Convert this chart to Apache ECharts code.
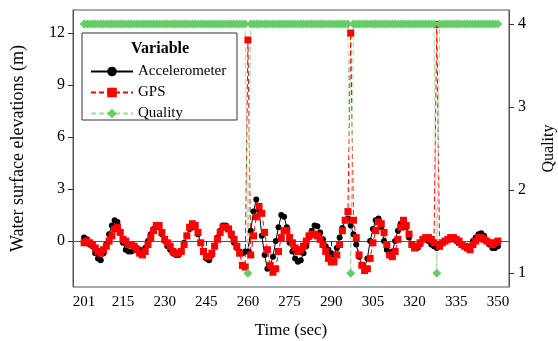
<!DOCTYPE html>
<html>
<head>
<meta charset="utf-8">
<script src="https://cdn.jsdelivr.net/npm/echarts@6/dist/echarts.min.js"></script>
<style>
  html, body { margin: 0; padding: 0; background: #fff; }
  #chart { width: 558px; height: 341px; }
</style>
</head>
<body>
<div id="chart"></div>
<script>
// sample times (sec)
var times = [
  201, 202, 203, 204, 205, 206, 207, 208, 209, 210,
  211, 212, 213, 214, 215, 216, 217, 218, 219, 220,
  221, 222, 223, 224, 225, 226, 227, 228, 229, 230,
  231, 232, 233, 234, 235, 236, 237, 238, 239, 240,
  241, 242, 243, 244, 245, 246, 247, 248, 249, 250,
  251, 252, 253, 254, 255, 256, 257, 258, 259, 260,
  261, 262, 263, 264, 265, 266, 267, 268, 269, 270,
  271, 272, 273, 274, 275, 276, 277, 278, 279, 280,
  281, 282, 283, 284, 285, 286, 287, 288, 289, 290,
  291, 292, 293, 294, 295, 296, 297, 298, 299, 300,
  301, 302, 303, 304, 305, 306, 307, 308, 309, 310,
  311, 312, 313, 314, 315, 316, 317, 318, 319, 320,
  321, 322, 323, 324, 325, 326, 327, 328, 329, 330,
  331, 332, 333, 334, 335, 336, 337, 338, 339, 340,
  341, 342, 343, 344, 345, 346, 347, 348, 349, 350
];

// water surface elevation, accelerometer (m)
var accelerometer = [
  0.2, 0.1, -0.2, -0.3, -0.7, -1.0, -1.1, -0.7, -0.2, 0.4,
  0.9, 1.2, 1.1, 0.5, -0.1, -0.5, -0.6, -0.6, -0.5, -0.4,
  -0.5, -0.6, -0.4, 0.0, 0.4, 0.7, 0.9, 0.8, 0.4, 0.0,
  -0.3, -0.5, -0.7, -0.8, -0.8, -0.6, -0.1, 0.3, 0.7, 0.9,
  0.8, 0.4, -0.1, -0.6, -1.0, -1.1, -0.8, -0.3, 0.2, 0.6,
  0.9, 0.9, 0.7, 0.3, -0.1, -0.4, -0.6, -0.7, -0.6, -0.6,
  0.6, 1.7, 2.4, 1.8, 0.3, -0.8, -1.6, -1.4, -0.9, 0.0,
  0.8, 1.5, 1.4, 0.8, -0.1, -0.6, -1.0, -1.2, -1.1, -0.7,
  -0.3, 0.2, 0.6, 0.9, 0.85, 0.5, 0.1, -0.3, -0.5, -0.7,
  -0.8, -0.4, 0.2, 0.75, 1.2, 1.3, 0.9, 0.4, -0.2, -0.9,
  -1.4, -1.55, -1.0, 0.0, 0.7, 1.2, 1.3, 0.8, 0.0, -0.5,
  -0.7, -0.6, 0.0, 0.6, 1.0, 1.1, 0.8, 0.2, -0.2, -0.4,
  -0.4, -0.2, 0.1, 0.2, 0.0, -0.2, -0.3, -0.4, -0.2, -0.1,
  0.0, 0.1, 0.1, 0.1, 0.0, -0.1, -0.2, -0.3, -0.4, -0.3,
  0.0, 0.2, 0.4, 0.45, 0.3, 0.0, -0.2, -0.4, -0.4, -0.3
];

// water surface elevation, GPS (m)
var gps = [
  -0.1, 0.0, -0.1, -0.2, -0.4, -0.6, -0.7, -0.5, -0.3, 0.0,
  0.3, 0.7, 0.8, 0.5, 0.1, 0.0, -0.2, -0.2, -0.3, -0.5,
  -0.7, -0.8, -0.6, -0.2, 0.2, 0.6, 0.9, 0.9, 0.5, 0.1,
  -0.1, -0.3, -0.6, -0.7, -0.7, -0.6, -0.2, 0.3, 0.8, 1.0,
  0.9, 0.5, -0.1, -0.6, -0.9, -0.9, -0.7, -0.3, 0.1, 0.5,
  0.8, 0.8, 0.7, 0.4, 0.1, -0.3, -0.7, -1.4, -1.5, 11.6,
  -0.8, 0.3, 1.4, 2.0, 1.6, 0.5, -0.5, -1.4, -1.8, -1.6,
  -0.6, 0.2, 0.6, 0.6, 0.2, -0.1, -0.4, -0.6, -0.5, -0.3,
  0.0, 0.3, 0.4, 0.4, 0.3, 0.1, -0.2, -0.6, -1.0, -1.2,
  -1.2, -0.8, -0.2, 0.6, 1.2, 1.7, 12.0, 1.2, 0.2, -0.8,
  -1.4, -1.7, -1.6, -1.0, -0.1, 0.6, 1.1, 1.0, 0.5, -0.2,
  -0.8, -0.9, -0.6, 0.1, 0.8, 1.2, 0.9, 0.4, -0.2, -0.4,
  -0.3, -0.1, 0.1, 0.2, 0.2, 0.1, -0.1, 12.5, -0.3, -0.1,
  0.0, 0.1, 0.2, 0.2, 0.1, 0.0, -0.2, -0.3, -0.4, -0.5,
  -0.2, 0.0, 0.2, 0.2, 0.1, 0.0, -0.1, -0.2, -0.1, 0.0
];

// GPS quality flag
var quality = [
  4, 4, 4, 4, 4, 4, 4, 4, 4, 4,
  4, 4, 4, 4, 4, 4, 4, 4, 4, 4,
  4, 4, 4, 4, 4, 4, 4, 4, 4, 4,
  4, 4, 4, 4, 4, 4, 4, 4, 4, 4,
  4, 4, 4, 4, 4, 4, 4, 4, 4, 4,
  4, 4, 4, 4, 4, 4, 4, 4, 4, 1,
  4, 4, 4, 4, 4, 4, 4, 4, 4, 4,
  4, 4, 4, 4, 4, 4, 4, 4, 4, 4,
  4, 4, 4, 4, 4, 4, 4, 4, 4, 4,
  4, 4, 4, 4, 4, 4, 1, 4, 4, 4,
  4, 4, 4, 4, 4, 4, 4, 4, 4, 4,
  4, 4, 4, 4, 4, 4, 4, 4, 4, 4,
  4, 4, 4, 4, 4, 4, 4, 1, 4, 4,
  4, 4, 4, 4, 4, 4, 4, 4, 4, 4,
  4, 4, 4, 4, 4, 4, 4, 4, 4, 4
];

var xTicks = [201, 215, 230, 245, 260, 275, 290, 305, 320, 335, 350];
var yTicks = [0, 3, 6, 9, 12];
var qTicks = [1, 2, 3, 4];

function pairs(ys) {
  return times.map(function (t, i) { return [t, ys[i]]; });
}

var FONT = '"Liberation Serif", "DejaVu Serif", serif';
var GREEN = "#66cc66";

var chart = echarts.init(document.getElementById("chart"));
var option = {
  animation: false,
  textStyle: { fontFamily: FONT, color: "#000" },
  grid: {
    left: 73, right: 49, top: 10, bottom: 54,
    outerBoundsMode: "none",
    containLabel: false,
    show: true, borderColor: "#555", borderWidth: 1
  },
  graphic: [
    {
      type: "rect",
      shape: { x: 82, y: 33, width: 155, height: 87 },
      style: { fill: "#fff", stroke: "#333", lineWidth: 1 },
      z: 5
    },
    {
      type: "text",
      left: 131, top: 41,
      style: { text: "Variable", font: "bold 16px " + FONT, fill: "#000" },
      z: 6
    }
  ],
  legend: {
    orient: "vertical",
    left: 85, top: 59,
    itemWidth: 42, itemHeight: 12, itemGap: 6,
    textStyle: { fontFamily: FONT, fontSize: 15, lineHeight: 15, color: "#000" },
    data: ["Accelerometer", "GPS", "Quality"],
    z: 7
  },
  xAxis: {
    type: "value",
    min: 197, max: 354,
    name: "Time (sec)",
    nameLocation: "middle",
    nameGap: 35,
    nameTextStyle: { fontFamily: FONT, fontSize: 17, color: "#000" },
    axisLine: { show: true, lineStyle: { color: "#555" } },
    axisTick: { show: true, customValues: xTicks, length: 5, lineStyle: { color: "#333" } },
    axisLabel: { customValues: xTicks, fontFamily: FONT, fontSize: 15, color: "#000", margin: 8 },
    splitLine: { show: false }
  },
  yAxis: [
    {
      type: "value",
      min: -2.65, max: 13.33,
      name: "Water surface elevations (m)",
      nameLocation: "middle",
      nameGap: 46,
      nameTextStyle: { fontFamily: FONT, fontSize: 18, color: "#000" },
      axisLine: { show: true, lineStyle: { color: "#555" } },
      axisTick: { show: true, customValues: yTicks, length: 5, lineStyle: { color: "#333" } },
      axisLabel: { customValues: yTicks, fontFamily: FONT, fontSize: 16, color: "#000", margin: 8 },
      splitLine: { show: false }
    },
    {
      type: "value",
      min: 0.835, max: 4.17,
      position: "right",
      name: "Quality",
      nameLocation: "middle",
      nameGap: 32,
      nameRotate: 90,
      nameTextStyle: { fontFamily: FONT, fontSize: 16, color: "#000" },
      axisLine: { show: true, lineStyle: { color: "#555" } },
      axisTick: { show: true, customValues: qTicks, length: 5, lineStyle: { color: "#333" } },
      axisLabel: { customValues: qTicks, fontFamily: FONT, fontSize: 16, color: "#000", margin: 9 },
      splitLine: { show: false }
    }
  ],
  series: [
    {
      name: "Accelerometer",
      type: "line",
      yAxisIndex: 0,
      data: pairs(accelerometer),
      symbol: "circle",
      symbolSize: 6,
      itemStyle: { color: "#000" },
      lineStyle: { color: "#000", width: 1 }
    },
    {
      name: "GPS",
      type: "line",
      yAxisIndex: 0,
      data: pairs(gps),
      symbol: "rect",
      symbolSize: 7,
      itemStyle: { color: "#ff0000" },
      lineStyle: { color: "#ff0000", width: 1, type: [5, 3] }
    },
    {
      name: "Quality",
      type: "line",
      yAxisIndex: 1,
      data: pairs(quality),
      symbol: "diamond",
      symbolSize: 9,
      itemStyle: { color: GREEN },
      lineStyle: { color: "#99dd99", width: 1, type: [5, 3] }
    }
  ]
};
chart.setOption(option);
</script>
</body>
</html>
